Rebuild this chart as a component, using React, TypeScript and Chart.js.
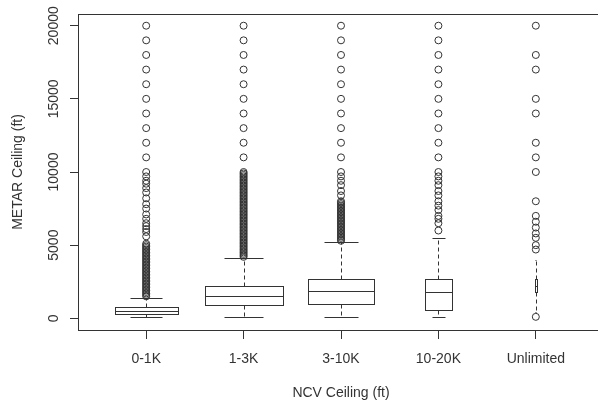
import React, { useEffect, useRef } from "react";
import { Chart, registerables } from "chart.js";

Chart.register(...registerables);

const categories = ["0-1K", "1-3K", "3-10K", "10-20K", "Unlimited"];
const groupCounts = [42000, 64000, 47000, 7800, 40];
const lowerWhisker = [100, 100, 100, 100, 400];
const q1Values = [300, 900, 1000, 600, 1800];
const medianValues = [500, 1500, 1900, 1800, 2200];
const q3Values = [800, 2200, 2700, 2700, 2700];
const upperWhisker = [1400, 4100, 5200, 5500, 4000];

const outliers0to1K = [
  20000, 19000, 18000, 17000, 16000, 15000, 14000, 13000, 12000, 11000, 10000,
  9700, 9400, 9200, 8900, 8600, 8200, 7800, 7500, 7100, 6800, 6500, 6300, 6100,
  5900, 5600, 5100, 5000, 4900, 4800, 4700, 4600, 4500, 4400, 4300, 4200, 4100,
  4000, 3900, 3800, 3700, 3600, 3500, 3400, 3300, 3200, 3100, 3000, 2900, 2800,
  2700, 2600, 2500, 2400, 2300, 2200, 2100, 2000, 1900, 1800, 1700, 1600, 1500,
];
const outliers1to3K = [
  20000, 19000, 18000, 17000, 16000, 15000, 14000, 13000, 12000, 11000, 10000,
  9900, 9800, 9700, 9600, 9500, 9400, 9300, 9200, 9100, 9000, 8900, 8800, 8700,
  8600, 8500, 8400, 8300, 8200, 8100, 8000, 7900, 7800, 7700, 7600, 7500, 7400,
  7300, 7200, 7100, 7000, 6900, 6800, 6700, 6600, 6500, 6400, 6300, 6200, 6100,
  6000, 5900, 5800, 5700, 5600, 5500, 5400, 5300, 5200, 5100, 5000, 4900, 4800,
  4700, 4600, 4500, 4400, 4300, 4200,
];
const outliers3to10K = [
  20000, 19000, 18000, 17000, 16000, 15000, 14000, 13000, 12000, 11000, 10000,
  9700, 9400, 9100, 8700, 8400, 8000, 7900, 7800, 7700, 7600, 7500, 7400, 7300,
  7200, 7100, 7000, 6900, 6800, 6700, 6600, 6500, 6400, 6300, 6200, 6100, 6000,
  5900, 5800, 5700, 5600, 5500, 5400, 5300,
];
const outliers10to20K = [
  20000, 19000, 18000, 17000, 16000, 15000, 14000, 13000, 12000, 11000, 10000,
  9700, 9400, 9100, 8700, 8400, 8000, 7700, 7400, 7000, 6800, 6500, 6000,
];
const outliersUnlimited = [
  20000, 18000, 17000, 15000, 14000, 12000, 11000, 10000, 8000, 7000, 6600,
  6200, 5800, 5500, 5000, 4700, 100,
];
const outlierGroups = [
  outliers0to1K,
  outliers1to3K,
  outliers3to10K,
  outliers10to20K,
  outliersUnlimited,
];

const yTickValues = [0, 5000, 10000, 15000, 20000];
const xTitle = "NCV Ceiling (ft)";
const yTitle = "METAR Ceiling (ft)";

const LINE = "#333";
const TEXT = "#333";
const FONT = "'Liberation Sans', Arial, Helvetica, sans-serif";
const FONT_SIZE = 14;

const snap = (v: number) => Math.round(v) + 0.5;

const boxPlugin = {
  id: "rboxes",
  beforeDatasetsDraw(chart: any) {
    const { ctx, chartArea } = chart;
    const xs = chart.scales.x;
    const ys = chart.scales.y;
    ctx.save();
    ctx.strokeStyle = LINE;
    ctx.lineWidth = 1;
    ctx.strokeRect(
      snap(chartArea.left),
      snap(chartArea.top),
      Math.round(chartArea.right - chartArea.left),
      Math.round(chartArea.bottom - chartArea.top)
    );
    const maxN = Math.max(...groupCounts);
    const line = (x1: number, y1: number, x2: number, y2: number) => {
      ctx.beginPath();
      ctx.moveTo(x1, y1);
      ctx.lineTo(x2, y2);
      ctx.stroke();
    };
    categories.forEach((_, i) => {
      const c = i + 1;
      const hw = 0.4 * Math.sqrt(groupCounts[i] / maxN);
      const cx = snap(xs.getPixelForValue(c));
      const xl = snap(xs.getPixelForValue(c - hw));
      const xr = snap(xs.getPixelForValue(c + hw));
      const sl = snap(xs.getPixelForValue(c - hw / 2));
      const sr = snap(xs.getPixelForValue(c + hw / 2));
      const yLw = snap(ys.getPixelForValue(lowerWhisker[i]));
      const yQ1 = snap(ys.getPixelForValue(q1Values[i]));
      const yMed = snap(ys.getPixelForValue(medianValues[i]));
      const yQ3 = snap(ys.getPixelForValue(q3Values[i]));
      const yUw = snap(ys.getPixelForValue(upperWhisker[i]));
      ctx.setLineDash([4, 3]);
      line(cx, yQ3, cx, yUw);
      line(cx, yQ1, cx, yLw);
      ctx.setLineDash([]);
      line(sl, yUw, sr, yUw);
      line(sl, yLw, sr, yLw);
      ctx.strokeRect(xl, yQ3, xr - xl, yQ1 - yQ3);
      line(xl, yMed, xr, yMed);
    });
    ctx.restore();
  },
};

export default function App() {
  const ref = useRef<HTMLCanvasElement>(null);
  useEffect(() => {
    const chart = new Chart(ref.current as HTMLCanvasElement, {
      type: "scatter",
      data: {
        datasets: outlierGroups.map((arr, i) => ({
          label: categories[i],
          data: arr.map((v) => ({ x: i + 1, y: v })),
          pointStyle: "circle",
          pointRadius: 3.5,
          pointBorderWidth: 1,
          pointBorderColor: LINE,
          pointBackgroundColor: "rgba(0,0,0,0)",
          showLine: false,
        })),
      },
      options: {
        animation: false,
        responsive: false,
        devicePixelRatio: 1,
        events: [],
        layout: { padding: { left: 0, top: 14, right: 16, bottom: 0 } },
        plugins: {
          legend: { display: false },
          tooltip: { enabled: false },
        },
        scales: {
          x: {
            type: "linear",
            min: 0.3,
            max: 5.7,
            afterBuildTicks: (s: any) => {
              s.ticks = categories.map((_, i) => ({ value: i + 1 }));
            },
            afterFit: (s: any) => {
              s.height = 75;
            },
            grid: {
              drawOnChartArea: false,
              drawTicks: true,
              tickLength: 9,
              color: LINE,
            },
            border: { display: true, color: LINE },
            ticks: {
              autoSkip: false,
              minRotation: 0,
              maxRotation: 0,
              padding: 12,
              color: TEXT,
              font: { family: FONT, size: FONT_SIZE },
              callback: (v: any) => categories[Math.round(Number(v)) - 1] ?? "",
            },
            title: {
              display: true,
              text: xTitle,
              color: TEXT,
              font: { family: FONT, size: FONT_SIZE },
              padding: { top: 0, bottom: 3 },
            },
          },
          y: {
            type: "linear",
            min: -800,
            max: 20800,
            afterBuildTicks: (s: any) => {
              s.ticks = yTickValues.map((v) => ({ value: v }));
            },
            afterFit: (s: any) => {
              s.width = 78;
            },
            grid: {
              drawOnChartArea: false,
              drawTicks: true,
              tickLength: 8,
              color: LINE,
            },
            border: { display: true, color: LINE },
            ticks: {
              autoSkip: false,
              minRotation: 90,
              maxRotation: 90,
              crossAlign: "center",
              padding: -4,
              color: TEXT,
              font: { family: FONT, size: FONT_SIZE },
              callback: (v: any) => String(v),
            },
            title: {
              display: true,
              text: yTitle,
              color: TEXT,
              font: { family: FONT, size: FONT_SIZE },
              padding: { top: 10, bottom: 0 },
            },
          },
        },
      },
      plugins: [boxPlugin],
    } as any);
    return () => chart.destroy();
  }, []);
  return (
    <div
      style={{
        position: "fixed",
        left: 0,
        top: 0,
        width: 598,
        height: 405,
        overflow: "hidden",
        background: "#fff",
      }}
    >
      <canvas
        ref={ref}
        width={620}
        height={405}
        style={{ display: "block", width: 620, height: 405 }}
      />
    </div>
  );
}
